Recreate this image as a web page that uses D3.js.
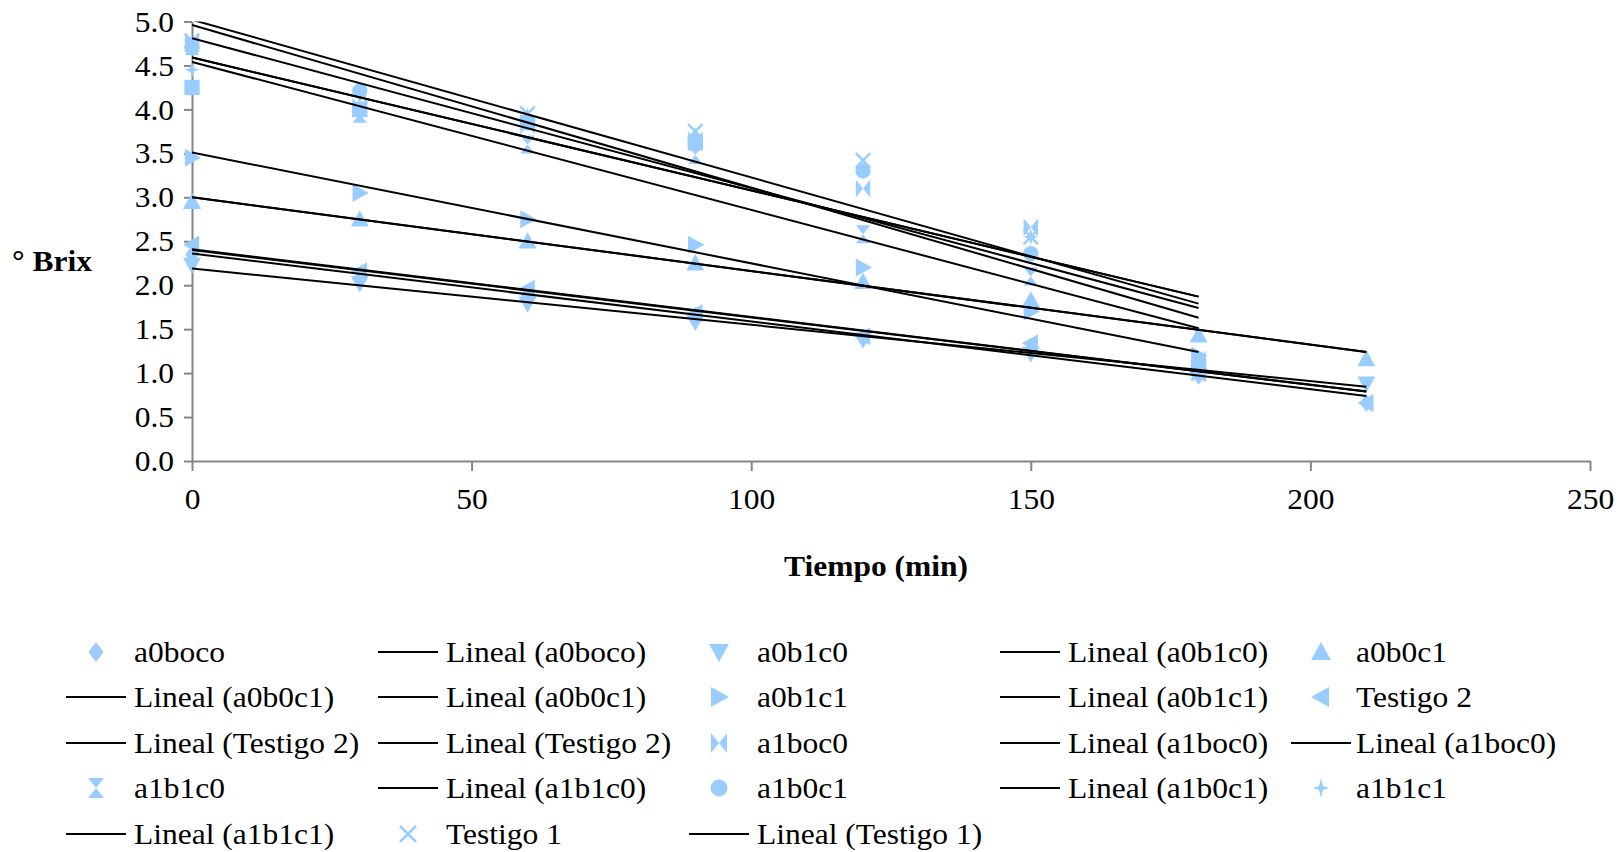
<!DOCTYPE html>
<html>
<head>
<meta charset="utf-8">
<script src="https://d3js.org/d3.v7.min.js"></script>
<style>
  body { margin: 0; background: #fff; }
  text { font-family: "Liberation Serif", "Times New Roman", serif; fill: #000; }
</style>
</head>
<body>
<svg id="chart" width="1620" height="852"></svg>
<script>
// tiempo (min) de cada lectura
var tiempo = [0, 30, 60, 90, 120, 150, 180, 210];

// ° Brix por tratamiento; null = no se ve en el grafico
var a0boco   = [2.35, 2.08, 1.89, 1.65, 1.40, 1.25, 0.97, 0.66];
var a0b1c0   = [2.23, 2.02, 1.79, 1.58, 1.38, 1.22, 0.98, 0.88];
var a0b0c1   = [2.95, 2.75, 2.50, 2.25, 2.04, 1.83, 1.43, 1.16];
var a0b1c1   = [3.45, 3.05, 2.75, 2.46, 2.20, 1.70, 1.20];
var testigo2 = [2.46, 2.16, 1.96, 1.68, 1.42, 1.34, 1.00, 0.66];
var a1boc0   = [4.75, 4.03, 3.82, 3.65, 3.10, 2.66, 1.15];
var a1b1c0   = [4.72, 3.95, 3.60, 3.48, 2.58, 2.10, 1.05];
var a1b0c1   = [4.70, 4.21, 3.85, 3.65, 3.30, 2.36, 1.10];
var a1b1c1   = [4.45, 4.15, 3.92, 3.70, 3.30, 2.55, 0.97];
var testigo1 = [4.78, 4.00, 3.95, 3.75, 3.42, 2.55, 1.00];
var sinLeyenda = [4.25, 4.00, 3.85, 3.62, null, null, 1.08];

// lineas de tendencia: valor en t=0, valor al final, tiempo final
var trendNames = ["a0boco", "a0b1c0", "a0b0c1", "a0b0c1", "a0b1c1", "Testigo 2", "Testigo 2",
                  "a1boc0", "a1boc0", "a1b1c0", "a1b0c1", "a1b1c1", "Testigo 1"];
var trendStart = [2.41, 2.19, 3.00, 3.00, 3.51, 2.36, 2.40, 4.59, 4.59, 4.54, 4.96, 4.81, 5.02];
var trendEnd   = [0.79, 0.845, 1.24, 1.24, 1.24, 0.74, 0.79, 1.87, 1.87, 1.51, 1.63, 1.74, 1.79];
var trendTEnd  = [210, 210, 210, 210, 180, 210, 210, 180, 180, 180, 180, 180, 180];

var yTicks = [0, 0.5, 1, 1.5, 2, 2.5, 3, 3.5, 4, 4.5, 5];
var xTicks = [0, 50, 100, 150, 200, 250];

var legendItems = ["a0boco", "Lineal (a0boco)", "a0b1c0", "Lineal (a0b1c0)", "a0b0c1",
  "Lineal (a0b0c1)", "Lineal (a0b0c1)", "a0b1c1", "Lineal (a0b1c1)", "Testigo 2",
  "Lineal (Testigo 2)", "Lineal (Testigo 2)", "a1boc0", "Lineal (a1boc0)", "Lineal (a1boc0)",
  "a1b1c0", "Lineal (a1b1c0)", "a1b0c1", "Lineal (a1b0c1)", "a1b1c1",
  "Lineal (a1b1c1)", "Testigo 1", "Lineal (Testigo 1)"];

var series = [
  {name: "a0boco", vals: a0boco, shape: "diamond"},
  {name: "a0b1c0", vals: a0b1c0, shape: "down"},
  {name: "a0b0c1", vals: a0b0c1, shape: "up"},
  {name: "a0b1c1", vals: a0b1c1, shape: "right"},
  {name: "Testigo 2", vals: testigo2, shape: "left"},
  {name: "sin", vals: sinLeyenda, shape: "square"},
  {name: "a1boc0", vals: a1boc0, shape: "bowtie"},
  {name: "a1b1c0", vals: a1b1c0, shape: "hourglass"},
  {name: "a1b0c1", vals: a1b0c1, shape: "circle"},
  {name: "a1b1c1", vals: a1b1c1, shape: "star"},
  {name: "Testigo 1", vals: testigo1, shape: "x"}
];

var azul = "#99ccff";
var stretch = 1.05;
var fs = 30;

var svg = d3.select("#chart");
var x = d3.scaleLinear().domain([0, 250]).range([192, 1590]);
var y = d3.scaleLinear().domain([0, 5]).range([461, 21.5]);

function shapePath(s, r) {
  var p = d3.path();
  if (s == "diamond") { p.moveTo(0,-r); p.lineTo(r*0.75,0); p.lineTo(0,r); p.lineTo(-r*0.75,0); p.closePath(); }
  else if (s == "up") { p.moveTo(0,-r); p.lineTo(r,r*0.8); p.lineTo(-r,r*0.8); p.closePath(); }
  else if (s == "down") { p.moveTo(0,r); p.lineTo(r,-r*0.8); p.lineTo(-r,-r*0.8); p.closePath(); }
  else if (s == "right") { p.moveTo(r,0); p.lineTo(-r*0.8,-r); p.lineTo(-r*0.8,r); p.closePath(); }
  else if (s == "left") { p.moveTo(-r,0); p.lineTo(r*0.8,-r); p.lineTo(r*0.8,r); p.closePath(); }
  else if (s == "square") { p.rect(-r*0.85,-r*0.85,r*1.7,r*1.7); }
  else if (s == "bowtie") { p.moveTo(-r*0.8,-r); p.lineTo(0,0); p.lineTo(-r*0.8,r); p.closePath();
                            p.moveTo(r*0.8,-r); p.lineTo(0,0); p.lineTo(r*0.8,r); p.closePath(); }
  else if (s == "hourglass") { p.moveTo(-r*0.8,-r); p.lineTo(r*0.8,-r); p.lineTo(0,0); p.closePath();
                               p.moveTo(-r*0.8,r); p.lineTo(r*0.8,r); p.lineTo(0,0); p.closePath(); }
  else if (s == "circle") { p.arc(0,0,r*0.85,0,2*Math.PI); }
  else if (s == "star") { var k = r*0.2; p.moveTo(0,-r); p.lineTo(k,-k); p.lineTo(r*0.8,0); p.lineTo(k,k);
                          p.lineTo(0,r); p.lineTo(-k,k); p.lineTo(-r*0.8,0); p.lineTo(-k,-k); p.closePath(); }
  return p.toString();
}

function drawMarker(g, s, r) {
  if (s == "x") {
    g.append("path").attr("d", "M" + (-r*0.8) + "," + (-r*0.8) + "L" + (r*0.8) + "," + (r*0.8) +
        "M" + (r*0.8) + "," + (-r*0.8) + "L" + (-r*0.8) + "," + (r*0.8))
      .attr("stroke", azul).attr("stroke-width", 2.5).attr("fill", "none");
  } else {
    g.append("path").attr("d", shapePath(s, r)).attr("fill", azul);
  }
}

function widen(sel) {
  sel.each(function() {
    var w = this.getComputedTextLength();
    d3.select(this).attr("textLength", w * stretch).attr("lengthAdjust", "spacingAndGlyphs");
  });
}

// ejes
var gy = svg.append("g").attr("transform", "translate(192,0)")
  .call(d3.axisLeft(y).tickValues(yTicks).tickFormat(d3.format(".1f")).tickSize(8).tickSizeOuter(0).tickPadding(10));
var gx = svg.append("g").attr("transform", "translate(0,461)")
  .call(d3.axisBottom(x).tickValues(xTicks).tickFormat(d3.format("d")).tickSize(10).tickSizeOuter(0).tickPadding(17));
[gy, gx].forEach(function(g) {
  g.selectAll(".domain, line").attr("stroke", "#868686").attr("stroke-width", 2);
  g.selectAll("text").attr("font-size", fs).attr("fill", "#000")
    .attr("font-family", "Liberation Serif, Times New Roman, serif");
  widen(g.selectAll("text"));
});

svg.append("text").attr("x", 12).attr("y", 271).attr("font-size", fs).attr("font-weight", "bold")
  .text("° Brix").call(widen);
svg.append("text").attr("x", 876).attr("y", 576).attr("text-anchor", "middle")
  .attr("font-size", fs).attr("font-weight", "bold").text("Tiempo (min)").call(widen);

// marcadores
series.forEach(function(s) {
  s.vals.forEach(function(v, i) {
    if (v == null) return;
    var g = svg.append("g").attr("transform", "translate(" + x(tiempo[i]) + "," + y(v) + ")");
    drawMarker(g, s.shape, 9);
  });
});

// tendencias
svg.append("clipPath").attr("id", "area").append("rect")
  .attr("x", 192).attr("y", y(5)).attr("width", 1398).attr("height", y(0) - y(5));
var gl = svg.append("g").attr("clip-path", "url(#area)");
trendNames.forEach(function(n, i) {
  gl.append("line")
    .attr("x1", x(0)).attr("y1", y(trendStart[i]))
    .attr("x2", x(trendTEnd[i])).attr("y2", y(trendEnd[i]))
    .attr("stroke", "#000").attr("stroke-width", 2);
});

// leyenda
var colSym = [96, 408, 719, 1030, 1321];
var colTxt = [134, 446, 757, 1068, 1356];
var rowY = [652, 697, 743, 788, 834];
legendItems.forEach(function(it, i) {
  var r = Math.floor(i / 5), c = i % 5;
  var g = svg.append("g").attr("transform", "translate(" + colSym[c] + "," + rowY[r] + ")");
  if (it.indexOf("Lineal") == 0) {
    g.append("line").attr("x1", -30).attr("x2", 30).attr("stroke", "#000").attr("stroke-width", 2);
  } else {
    var s = series.filter(function(d) { return d.name == it; })[0];
    drawMarker(g, s.shape, 10);
  }
  svg.append("text").attr("x", colTxt[c]).attr("y", rowY[r] + 10).attr("font-size", fs)
    .text(it).call(widen);
});
</script>
</body>
</html>
